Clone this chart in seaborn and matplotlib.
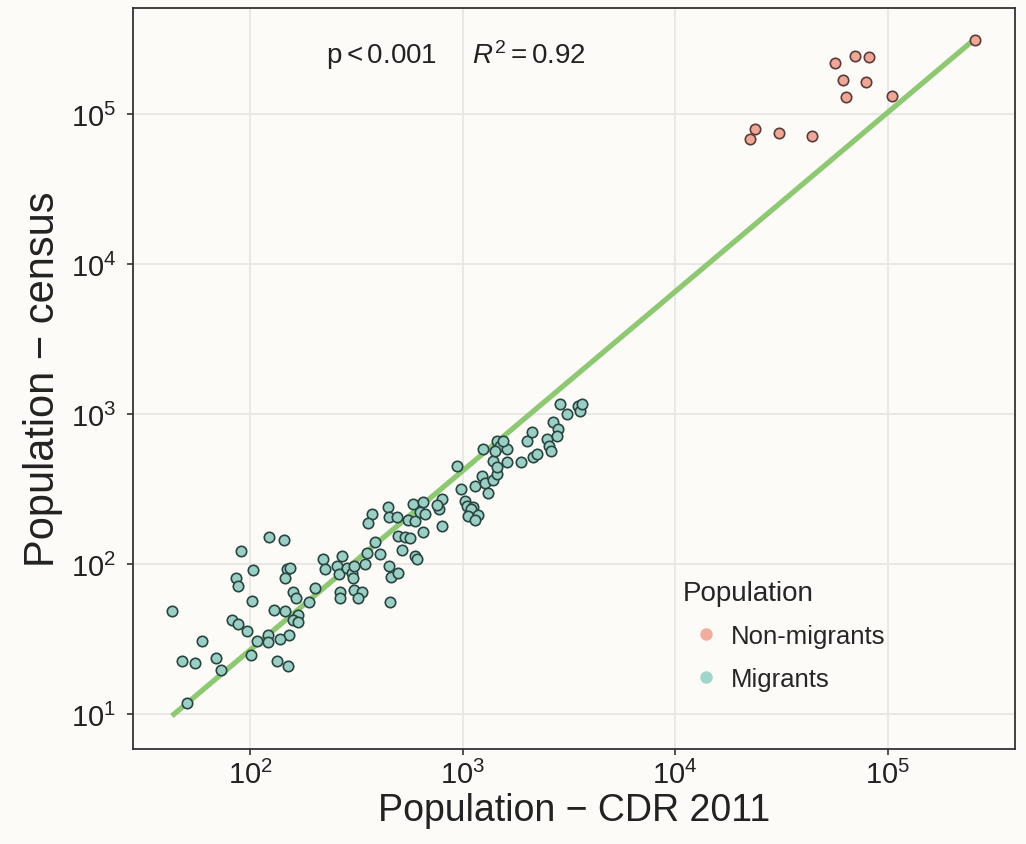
import numpy as np
import pandas as pd
import seaborn as sns
import matplotlib.pyplot as plt
from matplotlib.ticker import LogLocator, NullLocator, LogFormatterMathtext

# values, as log10 of the population
mig_cdr_log10 = [
    2.091, 2.159, 1.956, 2.345, 2.353, 2.013, 2.173, 2.188, 2.165, 1.934,
    1.945, 2.204, 2.215, 2.307, 2.279, 2.008, 1.632, 2.113, 2.166, 2.227,
    2.204, 2.224, 1.917, 1.945, 1.984, 1.776, 2.083, 2.185, 2.141, 2.032,
    2.083, 1.679, 1.741, 1.839, 1.865, 2.006, 2.126, 2.179, 1.705,
    2.432, 2.408, 2.420, 2.455, 2.479, 2.486, 2.489, 2.424, 2.424, 2.489,
    2.526, 2.508, 2.541, 2.551, 2.590, 2.612, 2.573, 2.554, 2.651, 2.656,
    2.693, 2.656, 2.662, 2.698, 2.714, 2.659, 2.698, 2.729, 2.753, 2.745,
    2.776, 2.768, 2.816, 2.800, 2.824, 2.813, 2.776, 2.784, 2.902, 2.891,
    2.879, 2.902, 2.973, 2.993, 3.012, 3.020, 3.051, 3.040, 3.026, 3.073,
    3.059, 3.059, 3.090, 3.106, 3.121, 3.144, 3.162, 3.098, 3.161, 3.176,
    3.208, 3.192, 3.145, 3.161, 3.208, 3.153, 3.275, 3.301, 3.326, 3.333,
    3.349, 3.396, 3.408, 3.415, 3.427, 3.451, 3.443, 3.459, 3.490, 3.545,
    3.553, 3.561,
]
mig_census_log10 = [
    2.182, 2.160, 2.085, 2.033, 1.967, 1.960, 1.967, 1.971, 1.907, 1.905,
    1.855, 1.811, 1.773, 1.838, 1.745, 1.751, 1.685, 1.695, 1.685, 1.660,
    1.629, 1.611, 1.629, 1.598, 1.551, 1.485, 1.529, 1.529, 1.500, 1.485,
    1.482, 1.351, 1.338, 1.373, 1.293, 1.395, 1.351, 1.318, 1.073,
    2.055, 1.985, 1.933, 1.973, 1.940, 1.907, 1.987, 1.811, 1.771, 1.827,
    1.811, 1.773, 2.000, 2.073, 2.145, 2.067, 2.333, 2.271, 2.378, 2.315,
    2.311, 1.985, 1.911, 1.940, 2.093, 1.749, 2.189, 2.178, 2.171, 2.295,
    2.289, 2.400, 2.411, 2.345, 2.333, 2.211, 2.055, 2.033, 2.433, 2.367,
    2.393, 2.255, 2.655, 2.500, 2.420, 2.387, 2.383, 2.367, 2.320, 2.327,
    2.293, 2.522, 2.589, 2.540, 2.473, 2.560, 2.600, 2.767, 2.822, 2.787,
    2.767, 2.822, 2.687, 2.645, 2.678, 2.753, 2.680, 2.822, 2.878, 2.711,
    2.733, 2.833, 2.789, 2.755, 2.945, 2.900, 2.855, 3.067, 3.000, 3.055,
    3.022, 3.067,
]
non_cdr_log10 = [5.412, 4.753, 4.847, 4.914, 4.792, 4.897, 4.803, 5.020,
                 4.376, 4.353, 4.491, 4.643]
non_census_log10 = [5.495, 5.338, 5.389, 5.382, 5.229, 5.211, 5.111, 5.122,
                    4.900, 4.833, 4.873, 4.851]

groups = ["Non-migrants", "Migrants"]
fill_colors = {"Non-migrants": "#f1a798", "Migrants": "#9bcfc5"}
edge_colors = {"Non-migrants": "#5a3c38", "Migrants": "#28453f"}
legend_colors = {"Non-migrants": "#f3ad9f", "Migrants": "#a2d5cc"}
bg = "#fcfbf8"

df = pd.DataFrame({
    "cdr": 10 ** np.array(non_cdr_log10 + mig_cdr_log10),
    "census": 10 ** np.array(non_census_log10 + mig_census_log10),
    "Population": ["Non-migrants"] * len(non_cdr_log10) + ["Migrants"] * len(mig_cdr_log10),
})

sns.set_theme(style="white")
plt.rcParams["font.family"] = ["Liberation Sans", "DejaVu Sans"]
plt.rcParams["mathtext.fontset"] = "custom"
plt.rcParams["mathtext.rm"] = "Liberation Sans"
plt.rcParams["mathtext.it"] = "Liberation Sans:italic"

fig = plt.figure(figsize=(10.26, 8.45), dpi=100, facecolor=bg)
ax = fig.add_axes([0.1296, 0.1124, 0.8597, 0.8769])
ax.set_facecolor(bg)

# log-log linear fit over all points
lx = np.log10(df["cdr"].values)
ly = np.log10(df["census"].values)
slope, intercept = np.polyfit(lx, ly, 1)
xs = np.array([lx.min(), lx.max()])
ax.plot(10 ** xs, 10 ** (intercept + slope * xs), color="#8fc873", lw=3.8,
        solid_capstyle="butt", zorder=2)

for g in ["Migrants", "Non-migrants"]:
    sub = df[df["Population"] == g]
    sns.scatterplot(data=sub, x="cdr", y="census", ax=ax, color=fill_colors[g],
                    edgecolor=edge_colors[g], linewidth=1.2, s=56, zorder=3,
                    legend=False)

ax.set_xscale("log")
ax.set_yscale("log")
ax.set_xlim(10 ** 1.449, 10 ** 5.6)
ax.set_ylim(10 ** 0.767, 10 ** 5.707)
ax.xaxis.set_major_locator(LogLocator(base=10, numticks=10))
ax.yaxis.set_major_locator(LogLocator(base=10, numticks=10))
ax.xaxis.set_minor_locator(NullLocator())
ax.yaxis.set_minor_locator(NullLocator())
ax.xaxis.set_major_formatter(LogFormatterMathtext())
ax.yaxis.set_major_formatter(LogFormatterMathtext())
ax.grid(True, color="#e8e6e4", lw=1.3, zorder=0)
ax.set_axisbelow(True)
ax.tick_params(axis="both", which="major", direction="out", length=4,
               width=1.2, color="#333333", labelsize=21, labelcolor="#222222",
               bottom=True, left=True)
ax.tick_params(axis="y", pad=8)
ax.tick_params(axis="x", pad=4)
for sp in ax.spines.values():
    sp.set_color("#333333")
    sp.set_linewidth(1.3)

ax.set_xlabel("Population \u2212 CDR 2011", fontsize=27, color="#222222", labelpad=2)
ax.set_ylabel("Population \u2212 census", fontsize=30, color="#222222", labelpad=6)

ax.text(0.366, 0.938, r"$\mathrm{p} < 0.001\quad\;\; R^2 = 0.92$", transform=ax.transAxes,
        ha="center", va="center", fontsize=20, color="#222222")

handles = [plt.Line2D([], [], ls="", marker="o", markersize=9, markeredgewidth=0,
                      color=legend_colors[g]) for g in groups]
leg = ax.legend(handles, groups, title="Population", loc="upper left",
                bbox_to_anchor=(0.612, 0.242), frameon=False, fontsize=18.5,
                title_fontsize=20, handletextpad=0.05, handlelength=1.8,
                labelspacing=0.72, borderaxespad=0)
leg._legend_box.align = "left"

fig.savefig("out.png", dpi=100, facecolor=bg)
